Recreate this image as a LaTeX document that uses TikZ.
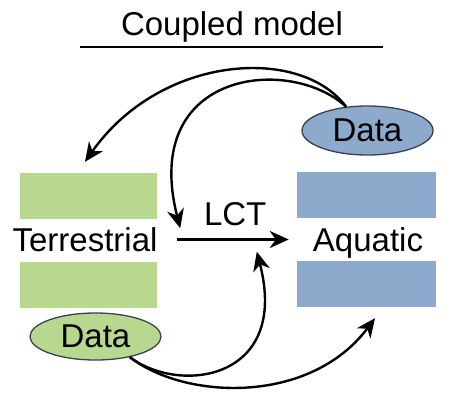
\documentclass[tikz,border=0pt]{standalone}
\usepackage{fontspec}
\setmainfont{Liberation Sans}
\usetikzlibrary{shapes.geometric, positioning, arrows.meta}
\definecolor{landgreen}{RGB}{185,216,143}
\definecolor{waterblue}{RGB}{141,169,204}
\definecolor{rimgray}{RGB}{55,65,80}
\tikzset{
  greenbox/.style={rectangle, minimum width=137pt, minimum height=46pt, inner sep=0pt, fill=landgreen},
  bluebox/.style={rectangle, minimum width=139pt, minimum height=46pt, inner sep=0pt, fill=waterblue},
  datagreen/.style={ellipse, minimum width=131pt, minimum height=47pt, inner sep=0pt, draw=rimgray, line width=1.3pt, fill=landgreen},
  datablue/.style={ellipse, minimum width=131pt, minimum height=49pt, inner sep=0pt, draw=rimgray, line width=1.3pt, fill=waterblue},
  txt/.style={inner sep=0pt, text height=23pt, text depth=0pt},
  arrow/.style={line width=2.4pt, -{Stealth[length=19pt,width=17pt,inset=6pt]}}
}

\begin{document}
\begin{tikzpicture}[
            x=1pt, y=-1pt,
            every node/.style={font=\fontsize{33}{38}\selectfont}
        ]
            \useasboundingbox (0,0) rectangle (466,408);

            % --- Title ---
            \node (title) [txt, anchor=base] at (232,35) {Coupled model};
            \draw [line width=2.4pt] (80,47) -- (383,47);

            % --- Boxes ---
            \node (terrtop) [greenbox] at (88.5,196) {};
            \node (terrbot) [greenbox] at (88.5,285) {};
            \node (aqtop) [bluebox] at (366.5,194.5) {};
            \node (aqbot) [bluebox] at (366.5,284) {};
            \node (terr) [txt, anchor=base] at (85,251) {Terrestrial};
            \node (aq) [txt, anchor=base] at (368,251) {Aquatic};

            % --- Data ---
            \node (datatop) [datablue] at (367.5,130.5) {Data};
            \node (databot) [datagreen] at (95.5,336.5) {Data};

            % --- Links ---
            \draw [arrow, shorten <=19pt, shorten >=24pt] (terr.east) -- node[txt, above=13pt]{LCT} (aq.west);

            \draw [arrow] (datatop.132) .. controls (300,45) and (160,55) .. ([shift={(-3.5pt,11pt)}]terrtop.north);
            \draw [arrow] (datatop.132) .. controls (290,55) and (140,70) .. ([shift={(23pt,-9pt)}]terrtop.south east);

            \draw [arrow] (databot.-31) .. controls (180,395) and (290,380) .. ([shift={(-40pt,9pt)}]aqbot.north west);
            \draw [arrow] (databot.-31) .. controls (185,400) and (310,405) .. ([shift={(8.5pt,-11pt)}]aqbot.south);
        \end{tikzpicture}
\end{document}
